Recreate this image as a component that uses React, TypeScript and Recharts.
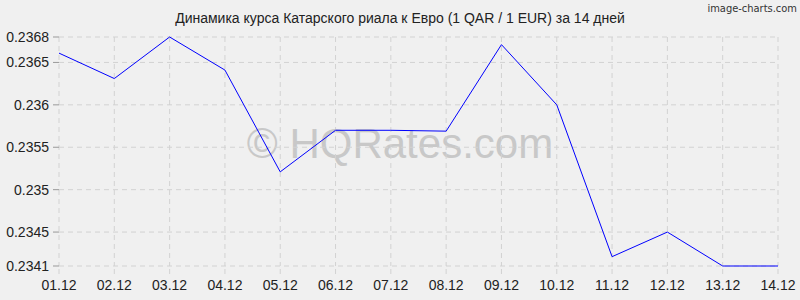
import { CartesianGrid, Line, LineChart, XAxis, YAxis } from "recharts";

const DAYS = [
  "01.12", "02.12", "03.12", "04.12", "05.12", "06.12", "07.12",
  "08.12", "09.12", "10.12", "11.12", "12.12", "13.12", "14.12",
];
const RATES = [
  0.23661, 0.23631, 0.2368, 0.23641, 0.23521, 0.2357, 0.2357,
  0.23569, 0.23671, 0.236, 0.23421, 0.2345, 0.2341, 0.2341,
];
const Y_TICKS = [0.2341, 0.2345, 0.235, 0.2355, 0.236, 0.2365, 0.2368];

const BG = "#f0f0f0";
const GRID = "#d2d2d2";
const FONT = "'Liberation Sans', Arial, sans-serif";

const data = DAYS.map((day, i) => ({ day, rate: RATES[i] }));

export default function App() {
  return (
    <div
      style={{
        position: "absolute",
        left: 0,
        top: 0,
        width: 800,
        height: 300,
        background: BG,
        fontFamily: FONT,
        overflow: "hidden",
      }}
    >
      <div
        style={{
          position: "absolute",
          right: 3,
          top: 2,
          fontSize: 11,
          color: "#333",
          fontFamily: "'Liberation Sans Narrow', 'DejaVu Sans Condensed', sans-serif",
        }}
      >
        image-charts.com
      </div>
      <div
        style={{
          position: "absolute",
          left: 0,
          width: 800,
          top: 10,
          textAlign: "center",
          fontSize: 14,
          color: "#222",
        }}
      >
        Динамика курса Катарского риала к Евро (1 QAR / 1 EUR) за 14 дней
      </div>
      <div
        style={{
          position: "absolute",
          left: 0,
          width: 800,
          top: 120,
          textAlign: "center",
          fontSize: 42,
          color: "#c8c8c8",
        }}
      >
        © HQRates.com
      </div>
      <div style={{ position: "absolute", left: 0, top: 0 }}>
        <LineChart
          width={800}
          height={300}
          data={data}
          margin={{ top: 37, right: 22, left: 0, bottom: 0 }}
        >
          <CartesianGrid stroke={GRID} strokeDasharray="5 4" />
          <XAxis
            dataKey="day"
            height={34}
            axisLine={false}
            tickLine={{ stroke: GRID, strokeDasharray: "5 4" }}
            tickSize={8}
            tickMargin={6}
            interval={0}
            tick={{ fill: "#222", fontSize: 14, fontFamily: FONT }}
          />
          <YAxis
            width={59}
            domain={[0.2341, 0.2368]}
            ticks={Y_TICKS}
            interval={0}
            axisLine={false}
            tickLine={{ stroke: "#999" }}
            tickSize={6}
            tickMargin={4}
            tickFormatter={(v: number) => String(v)}
            tick={{ fill: "#222", fontSize: 14, fontFamily: FONT }}
          />
          <Line
            type="linear"
            dataKey="rate"
            stroke="#0000ff"
            strokeWidth={1}
            dot={false}
            isAnimationActive={false}
          />
        </LineChart>
      </div>
    </div>
  );
}
